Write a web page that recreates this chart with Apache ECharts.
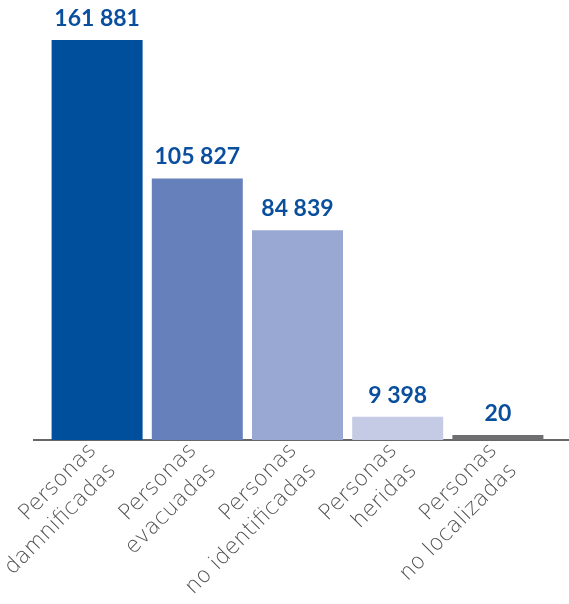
<!DOCTYPE html>
<html><head><meta charset="utf-8">
<script src="https://cdn.jsdelivr.net/npm/echarts@6/dist/echarts.min.js"></script>
<style>html,body{margin:0;padding:0;background:#fff}#c{width:569px;height:604px}</style>
</head><body><div id="c"></div>
<script>
const categories = ['Personas\ndamnificadas','Personas\nevacuadas','Personas\nno identificadas','Personas\nheridas','Personas\nno localizadas'];
const values = [161881, 105827, 84839, 9398, 20];
const colors = ['#004f9c','#6680bb','#99a8d2','#c6cbe5','#6e6e70'];

const chart = echarts.init(document.getElementById('c'));
chart.setOption({
  animation: false,
  grid: {left: 47, right: 21, top: 40, bottom: 164, containLabel: false, outerBoundsMode: 'none'},
  xAxis: {
    type: 'category', data: categories,
    axisLine: {show: false},
    axisTick: {show: false},
    axisLabel: {rotate: 45, interval: 0, margin: 23, padding: [0, -8, 0, 0], color: '#505052', fontFamily: 'DejaVu Sans', fontWeight: 200, fontSize: 22, lineHeight: 28}
  },
  yAxis: {type: 'value', min: 0, max: 'dataMax', show: false},
  series: [{
    type: 'bar', barWidth: 91, barMinHeight: 5,
    data: values.map((v,i)=>({value: v, itemStyle: {color: colors[i]}})),
    label: {
      show: true, position: 'top', distance: 10,
      color: '#0a4f9e', fontFamily: 'Lato', fontWeight: 'bold', fontSize: 23,
      formatter: p => String(p.value).replace(/\B(?=(\d{3})+(?!\d))/g, ' ')
    }
  }],
  graphic: [{type: 'line', shape: {x1: 33, y1: 440, x2: 569, y2: 440}, style: {stroke: '#333', lineWidth: 1.5}}]
});
</script></body></html>
